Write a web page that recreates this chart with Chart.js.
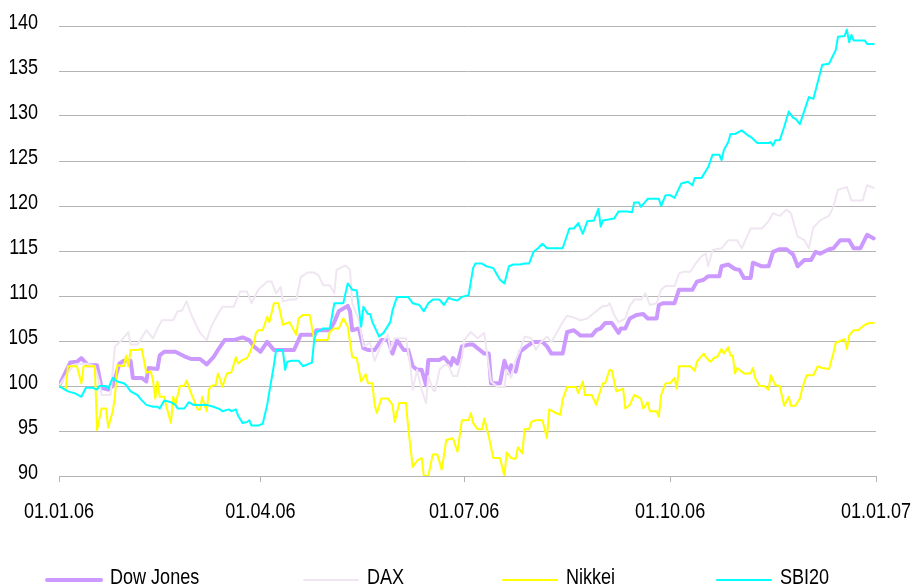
<!DOCTYPE html>
<html>
<head>
<meta charset="utf-8">
<style>
  html, body { margin: 0; padding: 0; background: #ffffff; }
  #wrap { width: 912px; height: 587px; position: relative; }
</style>
<script src="https://cdn.jsdelivr.net/npm/chart.js@4.4.1/dist/chart.umd.min.js"></script>
</head>
<body>
<div id="wrap"><canvas id="chart" width="912" height="587"></canvas></div>
<script>
// ---- data (day of year 2006, index value) ----
const seriesNames = ['Dow Jones', 'DAX', 'Nikkei', 'SBI20'];
const tickDays = [0, 90, 181, 273, 365];
const tickLabels = ['01.01.06', '01.04.06', '01.07.06', '01.10.06', '01.01.07'];

const dowJones = [[0,100],[5,102.6],[8,102.7],[10,103.1],[13,102.3],[17,102.3],[19,99.8],[22,99.6],[24,100],[27,102.5],[29,102.8],[32,102.8],[33,100.9],[37,100.9],[39,100.5],[40,102.0],[44,101.9],[45,103.4],[47,103.8],[52,103.8],[56,103.3],[59,103.0],[63,103.0],[66,102.4],[69,103.2],[71,104.0],[74,105.1],[78,105.1],[82,105.4],[85,105.1],[87,104.4],[90,103.8],[93,104.9],[96,104.0],[105,104.0],[107,105.1],[108,105.7],[114,105.7],[115,106.2],[121,106.2],[123,107.1],[125,108.3],[129,108.9],[130,108.3],[131,106.2],[134,106.4],[136,104.2],[138,104.0],[141,104.0],[144,105.1],[147,105.1],[149,103.6],[151,105.1],[154,104.0],[156,104.0],[158,102.2],[160,101.8],[162,101.8],[164,100.1],[165,102.9],[170,102.9],[172,103.2],[175,102.3],[176,103.1],[178,102.5],[180,104.4],[183,104.6],[185,104.6],[188,104.0],[190,103.6],[192,103.6],[193,100.3],[197,100.3],[199,102.8],[201,101.4],[202,102.3],[204,101.6],[206,103.8],[209,104.4],[212,104.9],[216,104.9],[218,104.4],[220,103.6],[225,103.6],[227,106.0],[230,106.2],[233,105.6],[238,105.6],[240,106.2],[242,106.4],[244,107.0],[247,107.0],[250,105.9],[251,106.4],[253,106.4],[255,107.5],[258,107.9],[261,108.0],[263,107.5],[267,107.5],[268,109.0],[270,109.2],[275,109.2],[277,110.7],[283,110.7],[285,111.6],[288,111.8],[290,112.2],[295,112.2],[296,113.3],[299,113.5],[302,113.0],[304,112.9],[306,112.0],[309,112.0],[310,113.7],[314,113.3],[317,113.3],[319,114.9],[322,115.2],[325,115.2],[328,114.6],[330,113.3],[333,114.0],[336,114.0],[338,114.9],[340,114.7],[344,115.2],[346,115.3],[349,116.2],[353,116.2],[355,115.3],[358,115.3],[361,116.8],[364,116.4]];

const dax = [[0,100],[4,101.5],[7,102.4],[12,102.5],[16,102.2],[18,100.5],[19,99.0],[23,99.0],[25,104.4],[28,105.1],[31,106.0],[32,104.6],[35,104.6],[39,106.2],[42,105.3],[44,106.4],[46,107.3],[51,107.3],[53,108.3],[55,108.4],[57,109.4],[59,108.0],[62,106.4],[63,105.9],[66,105.1],[68,106.6],[71,108.0],[73,108.8],[78,108.8],[81,110.5],[84,110.5],[86,109.2],[89,110.7],[93,111.6],[95,111.6],[97,110.3],[99,111.0],[100,109.4],[103,109.6],[106,109.6],[108,112.1],[111,112.6],[114,112.6],[116,112.3],[118,111.2],[121,111.2],[123,110.3],[124,112.9],[128,113.4],[130,112.9],[131,109.2],[134,107.3],[136,104.4],[139,104.8],[141,102.8],[144,104.6],[147,105.7],[148,104.0],[150,105.3],[155,105.3],[157,102.2],[158,99.6],[160,101.8],[162,99.6],[164,98.1],[165,101.1],[167,99.6],[168,99.4],[170,101.8],[172,102.3],[174,102.3],[176,101.1],[178,101.1],[180,103.1],[181,105.1],[184,106.0],[187,105.3],[190,105.9],[191,104.0],[193,100.5],[196,99.9],[199,99.9],[200,101.8],[202,100.9],[204,102.9],[206,104.0],[208,105.5],[211,105.3],[213,104.0],[215,104.8],[218,105.5],[220,104.9],[223,106.2],[225,107.1],[227,107.8],[230,107.6],[233,107.3],[236,107.5],[240,108.3],[243,108.9],[245,108.9],[246,109.2],[248,107.9],[250,107.1],[253,107.5],[255,108.9],[257,109.6],[260,109.6],[262,110.3],[264,109.0],[267,109.2],[269,110.7],[271,111.1],[275,111.1],[277,112.5],[279,112.7],[282,112.7],[285,113.8],[287,114.4],[289,114.7],[290,113.3],[292,115.1],[296,115.3],[299,116.2],[303,116.2],[305,115.3],[309,117.5],[314,117.5],[317,118.3],[319,119.2],[322,118.9],[325,119.6],[327,119.2],[330,116.6],[333,116.2],[335,115.3],[337,117.6],[340,118.4],[344,118.9],[346,119.9],[348,121.8],[352,122.1],[354,120.6],[359,120.6],[361,122.3],[364,122.0]];

const nikkei = [[0,100],[3,99.6],[4,102.2],[8,102.2],[10,100.3],[11,102.2],[16,102.2],[17,95.1],[19,97.5],[21,97.5],[22,95.4],[24,97.2],[25,98.8],[26,102.3],[29,102.2],[30,103.4],[31,102.2],[32,104.0],[35,104.0],[37,104.1],[39,101.5],[41,101.6],[42,100.6],[43,98.6],[44,100.5],[45,98.8],[47,98.8],[48,97.7],[50,95.9],[51,98.8],[52,97.9],[54,100.0],[56,100.0],[57,100.6],[59,99.2],[60,98.6],[62,97.4],[63,97.4],[64,98.8],[65,97.9],[66,97.2],[67,99.6],[68,100.0],[70,100.1],[71,101.4],[72,100.7],[73,99.9],[75,101.4],[77,101.5],[79,103.2],[80,102.5],[82,102.9],[84,103.1],[85,103.6],[87,104.7],[88,105.9],[89,106.2],[91,106.2],[93,107.7],[94,107.1],[96,109.2],[98,109.2],[100,106.8],[103,107.1],[106,105.7],[107,107.5],[109,107.9],[112,107.9],[114,105.1],[120,105.1],[121,106.0],[123,106.4],[125,106.4],[127,107.5],[129,106.6],[131,103.2],[133,103.1],[135,100.5],[137,101.3],[138,100.3],[140,100.3],[141,97.9],[142,97.0],[144,98.6],[147,98.6],[149,97.9],[150,96.0],[152,98.1],[155,98.1],[156,95.4],[158,91.0],[160,91.7],[162,92.0],[163,90.0],[165,90.0],[167,92.4],[169,92.4],[171,90.7],[173,94.0],[176,94.2],[178,92.7],[180,96.2],[183,96.2],[184,97.0],[185,95.9],[187,95.2],[189,95.2],[190,96.4],[192,94.4],[194,92.0],[197,92.0],[199,90.0],[200,92.6],[202,92.0],[204,91.9],[205,93.2],[207,92.5],[208,95.2],[210,95.2],[211,96.0],[213,96.2],[216,96.2],[218,94.2],[219,97.4],[222,97.0],[224,96.8],[225,98.5],[227,99.9],[231,99.9],[232,99.2],[234,100.5],[235,99.0],[238,99.0],[240,97.9],[241,98.8],[243,100.3],[244,100.3],[246,101.8],[247,101.7],[249,99.4],[252,99.7],[253,97.5],[255,97.9],[257,99.0],[260,98.6],[261,97.5],[263,98.2],[264,97.2],[267,97.2],[268,96.6],[269,99.0],[271,100.3],[273,100.3],[275,100.9],[276,99.7],[277,102.2],[282,102.2],[284,101.7],[285,102.7],[288,103.6],[289,103.2],[291,102.7],[293,103.2],[294,103.2],[296,104.1],[297,103.6],[299,104.3],[300,103.4],[301,103.4],[302,101.4],[303,102.0],[306,101.4],[309,101.4],[310,102.0],[311,100.9],[313,100.0],[315,100.0],[317,99.6],[318,101.2],[320,100.1],[322,100.0],[324,97.8],[326,98.8],[327,97.8],[329,97.8],[331,98.6],[332,99.7],[334,101.2],[337,101.2],[339,102.2],[341,102.0],[344,101.9],[346,103.7],[347,104.8],[349,105.0],[351,105.2],[352,104.1],[353,105.6],[355,106.2],[357,106.2],[360,106.8],[362,107.0],[364,107.0]];

const sbi20 = [[0,100],[4,99.4],[7,99.2],[10,98.8],[12,99.8],[15,99.8],[17,99.6],[18,100.0],[21,100.0],[22,99.7],[24,100.9],[26,100.5],[29,100.3],[30,100.1],[32,99.4],[35,99.0],[37,98.4],[39,97.9],[42,97.7],[44,97.7],[45,97.5],[47,98.4],[50,98.2],[52,97.9],[53,97.5],[56,97.5],[58,98.2],[60,97.9],[66,97.9],[69,97.7],[72,97.4],[73,97.2],[76,97.4],[77,97.2],[79,97.4],[80,96.7],[82,95.9],[84,96.0],[85,96.2],[86,95.6],[89,95.6],[91,95.8],[93,97.9],[94,99.4],[96,102.3],[97,104.0],[100,104.0],[101,101.8],[102,102.7],[104,102.8],[107,102.8],[109,102.2],[111,102.4],[113,102.6],[114,105.1],[115,106.0],[117,106.2],[118,106.4],[121,106.4],[123,109.2],[127,109.2],[129,111.4],[131,110.7],[133,110.6],[135,106.6],[136,108.8],[138,108.0],[139,108.0],[140,107.1],[143,105.5],[145,105.9],[148,107.1],[149,108.4],[151,109.9],[156,109.9],[158,109.2],[161,109.0],[163,108.3],[165,109.2],[167,109.6],[170,109.6],[172,109.0],[174,109.8],[176,109.6],[178,109.5],[180,109.9],[183,110.1],[185,113.1],[186,113.6],[189,113.6],[191,113.3],[194,113.1],[197,111.8],[199,111.4],[201,113.3],[203,113.5],[206,113.5],[208,113.6],[210,113.6],[212,114.9],[214,115.3],[216,115.8],[218,115.3],[225,115.3],[228,117.5],[230,117.5],[232,118.1],[234,116.9],[236,118.3],[239,118.4],[241,119.7],[242,117.7],[243,118.4],[248,118.6],[250,119.4],[254,119.4],[256,119.3],[257,120.4],[259,120.4],[260,119.9],[263,120.8],[268,120.8],[269,120.0],[271,121.2],[273,121.2],[275,120.9],[278,122.5],[281,122.7],[283,122.3],[284,123.1],[287,123.1],[290,124.3],[292,125.7],[295,125.7],[296,125.1],[297,126.2],[299,127.1],[300,128.0],[302,128.0],[305,128.4],[308,127.8],[309,127.7],[312,127.0],[317,127.0],[318,127.1],[319,126.7],[320,127.3],[322,127.3],[324,128.8],[326,130.5],[328,129.8],[329,129.7],[331,129.1],[335,132.1],[337,131.9],[341,135.7],[344,135.8],[347,137.3],[348,138.8],[351,138.9],[352,139.6],[353,138.2],[354,139.0],[355,138.4],[360,138.4],[361,138.0],[364,138.0]];

// ---- fonts: Arial Narrow look (Liberation Sans Narrow, or Liberation Sans condensed horizontally) ----
function fontAvailable(name) {
  const c = document.createElement('canvas').getContext('2d');
  const s = '01.01.06 Dow Jones SBI20 140';
  c.font = '40px monospace';
  const a = c.measureText(s).width;
  c.font = '40px "' + name + '", monospace';
  const b = c.measureText(s).width;
  return Math.abs(a - b) > 0.5;
}
const narrow = fontAvailable('Liberation Sans Narrow');
const FONT_FAMILY = narrow ? '"Liberation Sans Narrow", "Arial Narrow", sans-serif' : '"Liberation Sans", Arial, sans-serif';
const FONT_SIZE = 22;
const TEXT_SCALE_X = narrow ? 1 : 0.82;
if (TEXT_SCALE_X !== 1) {
  const origFillText = CanvasRenderingContext2D.prototype.fillText;
  CanvasRenderingContext2D.prototype.fillText = function (text, x, y, maxWidth) {
    this.save();
    this.translate(x, y);
    this.scale(TEXT_SCALE_X, 1);
    if (maxWidth === undefined) origFillText.call(this, text, 0, 0);
    else origFillText.call(this, text, 0, 0, maxWidth / TEXT_SCALE_X);
    this.restore();
  };
}
const GRID = '#b4b4b4';

const seriesData = [dowJones, dax, nikkei, sbi20];
const seriesColors = ['#cc99ff', '#f0e6f2', '#ffff00', '#00ffff'];
const seriesWidths = [4, 2, 2, 2];
const seriesOrder = [3, 2, 1, 0];

const datasets = seriesNames.map((name, i) => ({
  label: name,
  data: seriesData[i].map(p => ({ x: p[0], y: p[1] })),
  borderColor: seriesColors[i],
  backgroundColor: seriesColors[i],
  borderWidth: seriesWidths[i],
  pointRadius: 0,
  tension: 0,
  fill: false,
  borderJoinStyle: 'round',
  borderCapStyle: 'round',
  order: seriesOrder[i]
}));

const customLegend = {
  id: 'customLegend',
  afterDraw(chart, args, opts) {
    const ctx = chart.ctx;
    ctx.save();
    ctx.font = FONT_SIZE + 'px ' + FONT_FAMILY;
    ctx.textBaseline = 'alphabetic';
    ctx.textAlign = 'left';
    chart.data.datasets.forEach((ds, i) => {
      const x = opts.starts[i];
      ctx.strokeStyle = ds.borderColor;
      ctx.lineWidth = ds.borderWidth;
      ctx.lineCap = 'round';
      ctx.beginPath();
      ctx.moveTo(x + 2, opts.lineY);
      ctx.lineTo(x + opts.swatch - 2, opts.lineY);
      ctx.stroke();
      ctx.fillStyle = '#000000';
      ctx.fillText(ds.label, x + opts.swatch + opts.gap, opts.textY);
    });
    ctx.restore();
  }
};

new Chart(document.getElementById('chart'), {
  type: 'line',
  data: { datasets },
  plugins: [customLegend],
  options: {
    responsive: false,
    animation: false,
    devicePixelRatio: 1,
    layout: { padding: { left: 10, right: 36, top: 26, bottom: 51 } },
    plugins: {
      legend: { display: false },
      tooltip: { enabled: false },
      customLegend: { starts: [45, 302, 501, 715], swatch: 58, gap: 7, lineY: 580, textY: 584 }
    },
    scales: {
      x: {
        type: 'linear',
        min: 0,
        max: 365,
        afterBuildTicks: (s) => { s.ticks = tickDays.map(v => ({ value: v })); },
        afterFit: (s) => { s.height = 60; s.paddingLeft = 0; s.paddingRight = 0; },
        ticks: {
          autoSkip: false,
          maxRotation: 0,
          padding: 17,
          color: '#000000',
          font: { family: FONT_FAMILY, size: FONT_SIZE },
          callback: (v) => { const k = tickDays.indexOf(v); return k >= 0 ? tickLabels[k] : ''; }
        },
        grid: { drawOnChartArea: false, drawTicks: true, tickLength: 6, color: GRID },
        border: { display: true, color: GRID, width: 1 }
      },
      y: {
        min: 90,
        max: 140,
        afterFit: (s) => { s.width = 49; s.paddingTop = 0; s.paddingBottom = 0; },
        ticks: {
          stepSize: 5,
          padding: 21,
          labelOffset: -3.5,
          color: '#000000',
          font: { family: FONT_FAMILY, size: FONT_SIZE }
        },
        grid: { drawTicks: false, color: GRID, lineWidth: 1 },
        border: { display: false }
      }
    }
  }
});
</script>
</body>
</html>
